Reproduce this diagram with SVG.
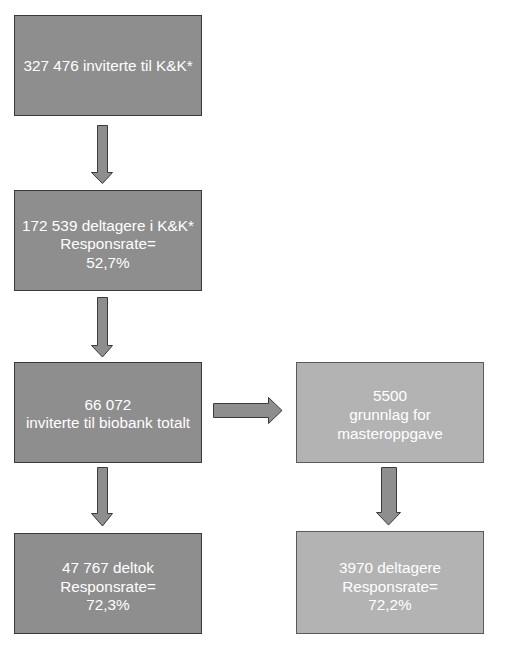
<svg xmlns="http://www.w3.org/2000/svg" width="507" height="645" viewBox="0 0 507 645">
<style>
.dark{fill:#8e8e8e;stroke:#3a3a3a;stroke-width:1}
.light{fill:#b3b3b3;stroke:#5a5a5a;stroke-width:1}
.arr{fill:#8e8e8e;stroke:#3a3a3a;stroke-width:1}
text{font-family:"Liberation Sans",Arial,sans-serif;font-size:15.3px;fill:#ffffff;text-anchor:middle}
</style>
<rect width="507" height="645" fill="#ffffff"/>
<g id="n1"><rect class="dark" x="14.5" y="15.5" width="187" height="100"/><text x="108" y="71">327 476 inviterte til K&amp;K*</text></g>
<g id="n2"><rect class="dark" x="14.5" y="190.5" width="187" height="100"/><text x="108" y="231">172 539 deltagere i K&amp;K*</text><text x="108" y="249">Responsrate=</text><text x="108" y="268">52,7%</text></g>
<g id="n3"><rect class="dark" x="14.5" y="362.5" width="187" height="100"/><text x="108" y="410">66 072</text><text x="108" y="428">inviterte til biobank totalt</text></g>
<g id="n4"><rect class="light" x="296.5" y="362.5" width="187" height="100"/><text x="390" y="401">5500</text><text x="390" y="420">grunnlag for</text><text x="390" y="439">masteroppgave</text></g>
<g id="n5"><rect class="dark" x="14.5" y="533.5" width="187" height="100"/><text x="108" y="573">47 767 deltok</text><text x="108" y="592">Responsrate=</text><text x="108" y="610">72,3%</text></g>
<g id="n6"><rect class="light" x="296.5" y="531.5" width="187" height="102"/><text x="390" y="573">3970 deltagere</text><text x="390" y="592">Responsrate=</text><text x="390" y="610">72,2%</text></g>
<g id="connectors">
<path class="arr" d="M97.5,125.5 H107.5 V172.5 H112.5 L102.5,183.5 L91.5,172.5 H97.5 Z"/>
<path class="arr" d="M97.5,297.5 H107.5 V345.5 H112.5 L102.5,357 L91.5,345.5 H97.5 Z"/>
<path class="arr" d="M97.5,467.5 H107.5 V513.5 H112.5 L102.5,526 L91.5,513.5 H97.5 Z"/>
<path class="arr" d="M381.5,467.5 H396.5 V512.5 H400.5 L388.5,525 L376.5,512.5 H381.5 Z"/>
<path class="arr" d="M213.5,403.5 H268.5 V397.5 L282,410.5 L268.5,423.5 V417.5 H213.5 Z"/>
</g>
</svg>
